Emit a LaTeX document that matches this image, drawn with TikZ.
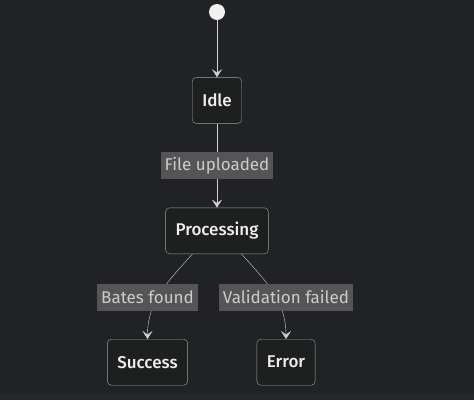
\documentclass[tikz,border=0pt]{standalone}
\usepackage{fontspec}
\setmainfont{Fira Sans}[BoldFont={Fira Sans Medium}]
\usetikzlibrary{arrows.meta,positioning}
\definecolor{bgdark}{HTML}{212226}
\definecolor{bgband}{HTML}{26272B}
\definecolor{statefill}{HTML}{1E1F1F}
\definecolor{statedraw}{HTML}{A0A0A0}
\definecolor{statetext}{HTML}{EEEEEE}
\definecolor{lblfill}{HTML}{555555}
\definecolor{lbltext}{HTML}{CCCCCC}
\definecolor{edgecol}{HTML}{D0D0D0}
\tikzset{
    %Define standard arrow tip
    >={Stealth[length=8pt,width=10pt,inset=3.5pt]},
    %Define style for states
    statebox/.style={
           rectangle,
           rounded corners=4pt,
           fill=statefill,
           draw=statedraw, thin,
           text=statetext,
           font=\fontsize{17}{20}\selectfont\bfseries,
           inner xsep=10pt,
           minimum height=46pt,
           text centered},
    startdot/.style={
           circle,
           fill=white!94!black,
           draw=none,
           minimum size=16pt,
           inner sep=0pt},
    % Define label style
    lbl/.style={
           rectangle,
           fill=lblfill,
           text=lbltext,
           font=\fontsize{17}{20}\selectfont,
           inner xsep=4pt,
           minimum height=27pt},
    % Define arrow style
    pil/.style={
           ->,
           draw=edgecol,
           thin}
}
\begin{document}
\begin{tikzpicture}[x=1pt,y=1pt,node distance=57pt]
 %background
\fill[bgdark] (0,0) rectangle (474,-400);
\fill[bgband] (0,-393) rectangle (474,-400);
\useasboundingbox (0,0) rectangle (474,-400);
 %nodes
\node[startdot] (start) at (217,-12) {};
\node[statebox, below=57pt of start] (idle) {Idle};
\node[statebox, below=84pt of idle] (proc) {Processing};
\node[statebox, below=85pt of proc, xshift=-69.5pt] (succ) {Success};
\node[statebox, below=85pt of proc, xshift=69pt] (err) {Error};

 %edges
\draw[pil] (start) -- (idle);
\draw[pil] (idle) -- node[lbl] {File uploaded} (proc);
\draw[pil] ([xshift=-24.5pt]proc.south) to[out=-132,in=90] (succ.north);
\draw[pil] ([xshift=24.5pt]proc.south) to[out=-48,in=90] (err.north);

 %labels
\node[lbl, above=28pt of succ] (bates) {Bates found};
\node[lbl, above=28pt of err] (valid) {Validation failed};
\end{tikzpicture}
\end{document}
